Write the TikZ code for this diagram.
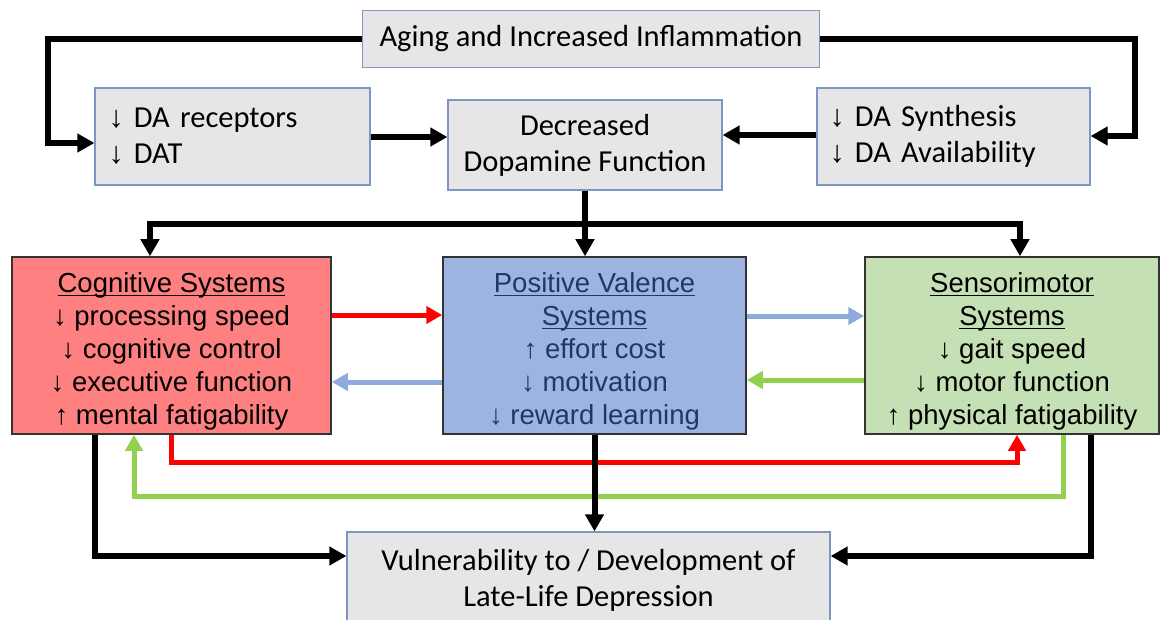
\documentclass[tikz,border=0pt]{standalone}
\usepackage{fontspec}
\setmainfont{Carlito}
\newfontfamily\arialfont{Liberation Sans}
\usepackage{tikz}
\usetikzlibrary{arrows.meta}
\definecolor{boxgray}{RGB}{231,230,230}
\definecolor{boxedge}{RGB}{125,150,195}
\definecolor{cogred}{RGB}{255,128,128}
\definecolor{posblue}{RGB}{158,180,224}
\definecolor{posnavy}{RGB}{31,56,100}
\definecolor{sensgreen}{RGB}{197,224,180}
\definecolor{arrblue}{RGB}{143,170,220}
\definecolor{arrgreen}{RGB}{146,208,80}
\newcommand{\arrdn}{{\arialfont\char"2193}}
\newcommand{\arrup}{{\arialfont\char"2191}}
\newcommand{\ulin}[1]{\leavevmode\setbox0\hbox{#1}\rlap{\rule[-4pt]{\wd0}{1.3pt}}\box0}

\begin{document}
\begin{tikzpicture}[x=1pt,y=-1pt]
			\tikzset{graybox/.style={draw=boxedge,line width=1.2pt,fill=boxgray,inner sep=0pt,font=\fontsize{30.5}{36}\selectfont},
				sysbox/.style={draw=black!80,line width=1.5pt,inner sep=0pt,minimum height=177pt,align=center,font=\arialfont\fontsize{27.5}{33}\selectfont},
				link/.style={line width=6pt,-{Triangle[length=17pt,width=18pt]}},
				clink/.style={line width=5pt,-{Triangle[length=16pt,width=17pt]}}}
			\useasboundingbox (0,0) rectangle (1161,620);
			\node[graybox,minimum width=457pt,minimum height=57pt] (aging) at (591,39) {Aging and Increased Inflammation};
			\node[graybox,minimum width=275pt,minimum height=97pt,align=left,text width=248pt] (darec) at (232.5,136.5) {\arrdn{} DA receptors\\\arrdn{} DAT};
			\node[graybox,minimum width=274pt,minimum height=90pt,align=center] (dafun) at (585,145) {Decreased\\Dopamine Function};
			\node[graybox,minimum width=273pt,minimum height=97pt,align=left,text width=248pt] (dasyn) at (953.5,136.5) {\arrdn{} DA Synthesis\\\arrdn{} DA Availability};
			\node[sysbox,fill=cogred,minimum width=319pt] (cog) at (171.5,345.5) {\rule{0pt}{31pt}\ulin{Cognitive Systems}\\\arrdn{} processing speed\\\arrdn{} cognitive control\\\arrdn{} executive function\\\arrup{} mental fatigability};
			\node[sysbox,fill=posblue,minimum width=303pt,text=posnavy] (pos) at (594.5,345.5) {\rule{0pt}{31pt}\ulin{Positive Valence}\\\ulin{Systems}\\\arrup{} effort cost\\\arrdn{} motivation\\\arrdn{} reward learning};
			\node[sysbox,fill=sensgreen,minimum width=294pt] (sens) at (1012,345.5) {\rule{0pt}{31pt}\ulin{Sensorimotor}\\\ulin{Systems}\\\arrdn{} gait speed\\\arrdn{} motor function\\\arrup{} physical fatigability};
			\node[graybox,minimum width=483pt,minimum height=96pt,align=center] (vul) at (588.5,580) {Vulnerability to / Development of\\Late-Life Depression};
			\draw[link] (aging.west) -| (48,143) -- (darec.west |- 0,143);
			\draw[link] (aging.east) -| (1135,136) -- (dasyn.east |- 0,136);
			\draw[link] (darec.east |- 0,137) -- (dafun.west |- 0,137);
			\draw[link] (dasyn.west |- 0,135) -- (dafun.east |- 0,135);
			\draw[line width=6pt] (dafun.south) -- (585,224) coordinate (split);
			\draw[line width=6pt] (150,224) -- (1020,224);
			\foreach \x/\tgt in {150/cog,585/pos,1020/sens}
				\draw[link] (\x,221) -- (\tgt.north -| \x,0);
			\draw[clink,red] (cog.east |- 0,315) -- (pos.west |- 0,315);
			\draw[clink,arrblue] (pos.west |- 0,382) -- (cog.east |- 0,382);
			\draw[clink,arrblue] (pos.east |- 0,316) -- (sens.west |- 0,316);
			\draw[clink,arrgreen] (sens.west |- 0,380) -- (pos.east |- 0,380);
			\draw[clink,red] (cog.south -| 171,0) -- (171,462) -| (sens.south -| 1017,0);
			\draw[clink,arrgreen] (sens.south -| 1063,0) -- (1063,496) -| (cog.south -| 134,0);
			\draw[link] (pos.south) -- (vul.north -| pos.south);
			\draw[link] (cog.south -| 95,0) -- (95,556) -- (vul.west |- 0,556);
			\draw[link] (sens.south -| 1091,0) -- (1091,556) -- (vul.east |- 0,556);
		\end{tikzpicture}
\end{document}
